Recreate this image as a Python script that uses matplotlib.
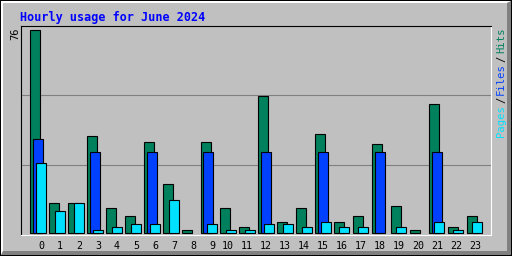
import numpy as np
import matplotlib
matplotlib.use('Agg')
import matplotlib.pyplot as plt
from matplotlib.patches import Polygon, Rectangle

# ---- data ----
hours = list(range(24))
hits = [76, 11, 11, 36, 9, 6, 34, 18, 1, 34, 9, 2, 51, 4, 9, 37, 4, 6, 33, 10, 1, 48, 2, 6]
files = [35, 0, 0, 30, 0, 0, 30, 0, 0, 30, 0, 0, 30, 0, 0, 30, 0, 0, 30, 0, 0, 30, 0, 0]
pages = [26, 8, 11, 1, 2, 3, 3, 12, 0, 3, 1, 1, 3, 3, 2, 4, 2, 2, 0, 2, 0, 4, 1, 4]
hour_labels = [str(h) for h in hours]
title = "Hourly usage for June 2024"
series_names = ["Hits", "Files", "Pages"]

# ---- style ----
GREY = '#C0C0C0'
DKGREY = '#808080'
C_HITS = '#00805C'
C_FILES = '#0040FF'
C_PAGES = '#00E0FF'
MONO = 'DejaVu Sans Mono'

W, H = 512, 256
fig = plt.figure(figsize=(W / 100, H / 100), dpi=100)
fig.patch.set_facecolor(GREY)

# background frame (pixel coordinates)
bg = fig.add_axes([0, 0, 1, 1])
bg.set_xlim(0, W)
bg.set_ylim(H, 0)
bg.axis('off')
bg.add_patch(Rectangle((0, 0), W, H, facecolor='black', edgecolor='none'))
bg.add_patch(Rectangle((1, 1), W - 2, H - 2, facecolor=DKGREY, edgecolor='none'))
bg.add_patch(Polygon([(1, 1), (W - 1, 1), (W - 5, 3), (3, 3), (3, H - 5), (1, H - 1)],
                     closed=True, facecolor='white', edgecolor='none'))
bg.add_patch(Rectangle((3, 3), W - 8, H - 8, facecolor=GREY, edgecolor='none'))

# data axes
PX = 19.0
ymax = max(hits)
scale = 203.0 / ymax
ax = fig.add_axes([20.5 / W, 21.5 / H, 470 / W, 209 / H])
ax.set_facecolor(GREY)
x = np.array(hours, dtype=float)
bw = 10 / PX
for vals, off, col in [(hits, 0, C_HITS), (files, 3, C_FILES), (pages, 6, C_PAGES)]:
    v = np.array(vals, dtype=float)
    ax.bar(x + off / PX, v, width=bw, align='edge', color=col,
           edgecolor='black', linewidth=np.where(v > 0, 0.8, 0.0), zorder=3)

ax.set_xlim(-9 / PX, 461 / PX)
ax.set_ylim(-2 / scale, 207 / scale)

for f in (1 / 3, 2 / 3):
    ax.plot([0, 1], [f, f], transform=ax.transAxes, color=DKGREY, lw=0.8, zorder=1)

for s in ('top', 'left'):
    ax.spines[s].set_color('black')
    ax.spines[s].set_linewidth(0.8)
for s in ('bottom', 'right'):
    ax.spines[s].set_color('white')
    ax.spines[s].set_linewidth(0.8)

ax.set_yticks([])
ax.set_xticks(x + 14.5 / PX)
ax.set_xticklabels(hour_labels, ha='right', fontsize=7.2, family=MONO, color='black')
ax.tick_params(axis='x', length=0, pad=5)

# texts
fig.text(20 / W, 1 - 21 / H, title, color='#0000FF', fontsize=8.5,
         fontweight='bold', family=MONO, va='baseline', ha='left')
fig.text(15.5 / W, 1 - 27 / H, str(ymax), rotation=90, ha='center', va='top',
         fontsize=7.5, family=MONO, color='black')

label_specs = [(series_names[2], C_PAGES, 137), ('/', 'black', 103),
               (series_names[1], C_FILES, 95), ('/', 'black', 62),
               (series_names[0], C_HITS, 53)]
for txt, col, ybot in label_specs:
    fig.text(501 / W, 1 - ybot / H, txt, rotation=90, ha='center', va='bottom',
             fontsize=7.6, family=MONO, color=col)

fig.savefig('out.png', dpi=100, facecolor=GREY)
